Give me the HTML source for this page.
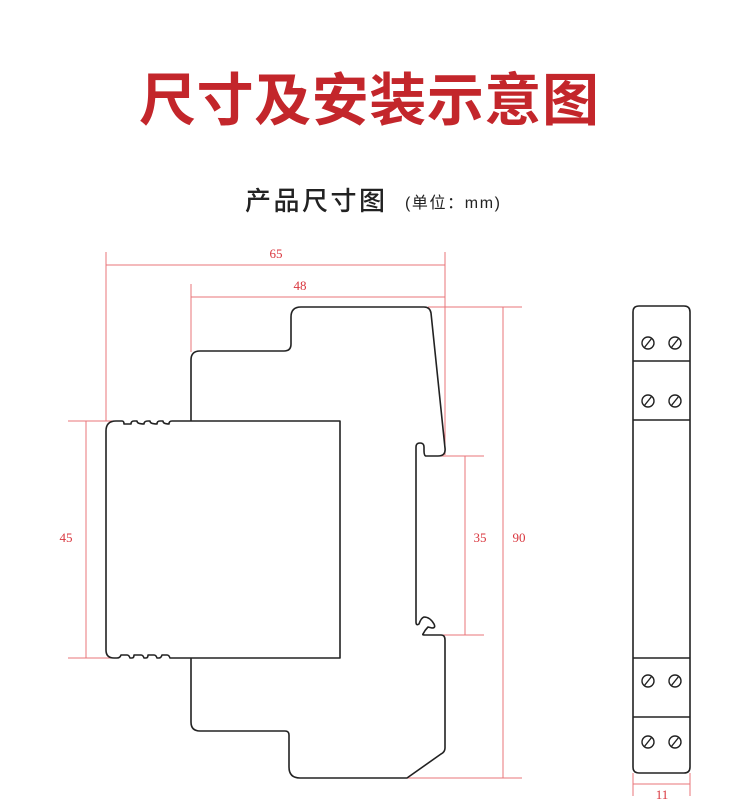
<!DOCTYPE html>
<html><head><meta charset="utf-8"><style>
html,body{margin:0;padding:0;background:#fff;width:750px;height:812px;overflow:hidden}
svg{display:block}
</style></head><body>
<svg width="750" height="812" viewBox="0 0 750 812" xmlns="http://www.w3.org/2000/svg">
<text x="369" y="120" text-anchor="middle" font-family="'Noto Sans CJK SC',sans-serif" font-weight="bold" font-size="57" fill="#c3262b" textLength="460">尺寸及安装示意图</text>
<text x="245" y="210" font-family="'Noto Sans CJK SC',sans-serif" font-weight="500" font-size="26" fill="#222" textLength="140">产品尺寸图</text>
<text x="405" y="208" font-family="'Liberation Sans','Noto Sans CJK SC',sans-serif" font-size="16" fill="#222" textLength="95">(单位：mm)</text>

<g stroke="#e8747a" stroke-width="1" fill="none">
<line x1="106" y1="252" x2="106" y2="421"/><line x1="445" y1="252" x2="445" y2="455"/>
<line x1="106" y1="265" x2="445" y2="265"/>
<line x1="191" y1="284" x2="191" y2="352"/>
<line x1="191" y1="297" x2="445" y2="297"/>
<line x1="68" y1="421" x2="115" y2="421"/><line x1="68" y1="658" x2="115" y2="658"/>
<line x1="86" y1="421" x2="86" y2="658"/>
<line x1="440" y1="456" x2="484" y2="456"/><line x1="440" y1="635" x2="484" y2="635"/>
<line x1="465" y1="456" x2="465" y2="635"/>
<line x1="428" y1="307" x2="522" y2="307"/><line x1="400" y1="778" x2="522" y2="778"/>
<line x1="503" y1="307" x2="503" y2="778"/>
<line x1="633" y1="773" x2="633" y2="796"/><line x1="690" y1="773" x2="690" y2="796"/>
<line x1="633" y1="784" x2="690" y2="784"/>
</g>
<g font-family="'Liberation Serif',serif" font-size="13" fill="#d9363e" text-anchor="middle">
<text x="276" y="258">65</text>
<text x="300" y="290">48</text>
<text x="66" y="542">45</text>
<text x="480" y="542">35</text>
<text x="519" y="542">90</text>
<text x="662" y="799">11</text>
</g>

<g stroke="#222" stroke-width="1.6" fill="none" stroke-linejoin="round">
<path d="M191 421 V360 Q191 351 200 351 H284 Q291 351 291 344 V317 Q291 307 301 307 H424 Q430 307 431 313 L445 448 Q446 456 438 456 H426 Q424 456 424 450 V447 Q424 443 420 443 Q416 443 416 447 V622 Q416 626 419 624 Q421 618 424 617 Q430 617 434 624 Q436 628 432 628 L428 627 Q425 630 423 634 Q422 635 425 635 H441 Q445 635 445 640 V748 Q445 752 441 754 L407 778 H300 Q289 778 289 767 V735 Q289 731 285 731 H200 Q191 731 191 722 V658"/>
<path d="M106 431 Q106 421 116 421 H122 Q124 421 124 424 H131 Q131 421 134 421 H137 Q137 424 144 424 Q144 421 148 421 H150 Q150 424 157 424 Q157 421 160 421 H163 Q163 424 169 424 Q169 421 172 421 H340 V658 H170 Q169 655 167 655 H162 Q161 658 159 658 H157 Q156 655 154 655 H148 Q148 658 146 658 H144 Q143 655 141 655 H134 Q134 658 132 658 H130 Q129 655 127 655 H121 Q120 658 117 658 H114 Q106 658 106 650 Z"/>
<path d="M633 312 Q633 306 639 306 H684 Q690 306 690 312 V767 Q690 773 684 773 H639 Q633 773 633 767 Z"/>
<line x1="633" y1="361" x2="690" y2="361"/>
<line x1="633" y1="420" x2="690" y2="420"/>
<line x1="633" y1="658" x2="690" y2="658"/>
<line x1="633" y1="717" x2="690" y2="717"/>
</g>
<g stroke="#222" stroke-width="1.4" fill="none">
<circle cx="648" cy="343" r="6"/><line x1="644" y1="348" x2="652" y2="338"/>
<circle cx="675" cy="343" r="6"/><line x1="671" y1="348" x2="679" y2="338"/>
<circle cx="648" cy="401" r="6"/><line x1="644" y1="406" x2="652" y2="396"/>
<circle cx="675" cy="401" r="6"/><line x1="671" y1="406" x2="679" y2="396"/>
<circle cx="648" cy="681" r="6"/><line x1="644" y1="686" x2="652" y2="676"/>
<circle cx="675" cy="681" r="6"/><line x1="671" y1="686" x2="679" y2="676"/>
<circle cx="648" cy="742" r="6"/><line x1="644" y1="747" x2="652" y2="737"/>
<circle cx="675" cy="742" r="6"/><line x1="671" y1="747" x2="679" y2="737"/>
</g>
</svg>
</body></html>
